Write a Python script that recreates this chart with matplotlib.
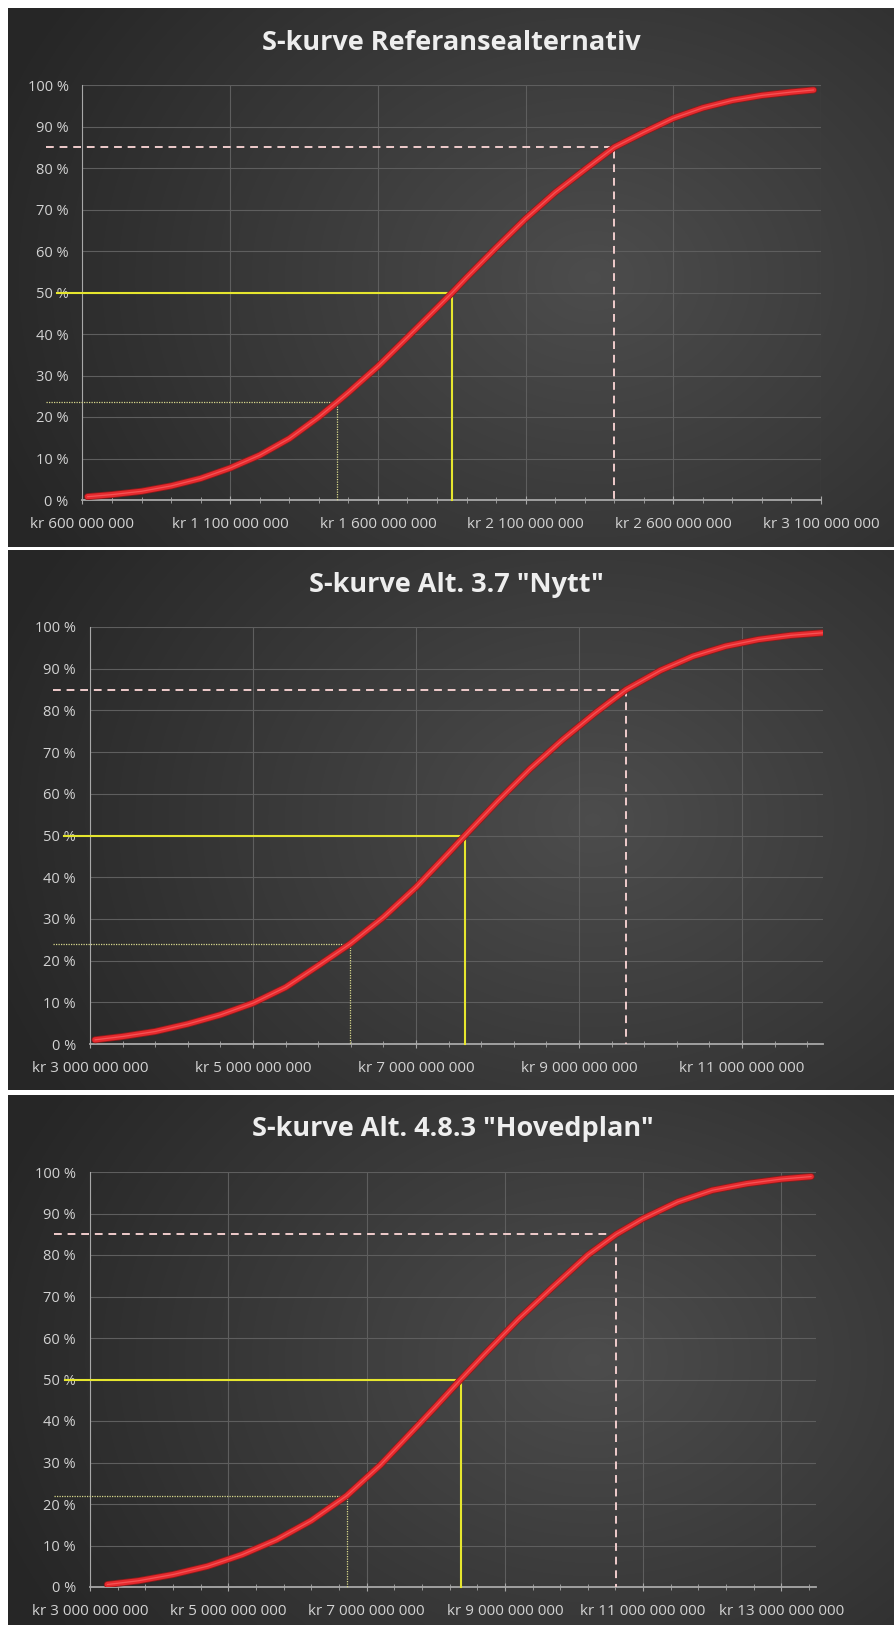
import numpy as np
import matplotlib
matplotlib.use('Agg')
import matplotlib.pyplot as plt
from matplotlib import patheffects as pe
from matplotlib.ticker import FuncFormatter, FixedLocator

plt.rcParams['font.family'] = ['Open Sans', 'DejaVu Sans']

# costs in million kr, cumulative probability in %
titles = ['S-kurve Referansealternativ',
          'S-kurve Alt. 3.7 "Nytt"',
          'S-kurve Alt. 4.8.3 "Hovedplan"']

ref_cost = [617, 700, 800, 900, 1000, 1100, 1200, 1300, 1400, 1460, 1500, 1600, 1700, 1800,
            1852, 1900, 2000, 2100, 2200, 2300, 2400, 2500, 2600, 2700, 2800, 2900, 3000, 3075]
ref_prob = [0.8, 1.3, 2.1, 3.4, 5.2, 7.7, 10.8, 14.8, 20.0, 23.5, 25.9, 32.2, 39.2, 46.3,
            50.0, 53.6, 60.8, 67.8, 74.1, 79.6, 85.0, 88.6, 92.0, 94.5, 96.3, 97.5, 98.3, 98.8]

nytt_cost = [3061, 3400, 3800, 4200, 4600, 5000, 5400, 5800, 6190, 6600, 7000, 7400, 7600,
             8000, 8400, 8800, 9200, 9580, 10000, 10400, 10800, 11200, 11600, 11988]
nytt_prob = [1.0, 1.8, 3.0, 4.8, 7.0, 9.8, 13.6, 18.8, 24.0, 30.4, 37.6, 45.8, 50.0,
             58.2, 66.0, 73.0, 79.4, 85.0, 89.6, 93.0, 95.4, 97.0, 98.0, 98.6]

hoved_cost = [3251, 3700, 4200, 4700, 5200, 5700, 6200, 6713, 7200, 7700, 8000, 8360, 8700,
              9200, 9700, 10200, 10610, 11000, 11500, 12000, 12500, 13000, 13430]
hoved_prob = [0.6, 1.5, 3.0, 5.0, 7.8, 11.4, 16.0, 22.0, 29.4, 38.2, 43.5, 50.0, 56.0,
              64.6, 72.4, 80.0, 85.0, 88.8, 92.8, 95.6, 97.2, 98.3, 98.9]

# (cost, prob) for the low marker, P50 and P85
ref_marks = [(1460, 23.5), (1852, 50), (2400, 85)]
nytt_marks = [(6190, 24), (7600, 50), (9580, 85)]
hoved_marks = [(6713, 22), (8360, 50), (10610, 85)]

# x axis min, max, major step (million kr)
x_axes = [(600, 3100, 500), (3000, 12000, 2000), (3000, 13500, 2000)]

W, H = 895, 1625
fig = plt.figure(figsize=(W / 100, H / 100), dpi=100)
fig.patch.set_facecolor('white')


def px_rect(l, r, t, b):
    return [l / W, 1 - b / H, (r - l) / W, (b - t) / H]


def kr_fmt(v, pos):
    return 'kr ' + f'{int(round(v * 1e6)):,}'.replace(',', ' ')


def draw_bg(l, r, t, b):
    bg = fig.add_axes(px_rect(l, r, t, b))
    bg.axis('off')
    yy, xx = np.mgrid[0:1:200j, 0:1:300j]
    d = np.sqrt(((xx - 0.66) / 0.72) ** 2 + ((yy - 0.5) / 0.95) ** 2)
    d = np.clip(d, 0, 1)[..., None]
    light = np.array([0.30, 0.30, 0.30])
    dark = np.array([0.15, 0.15, 0.15])
    bg.imshow(light * (1 - d) + dark * d, aspect='auto', extent=[0, 1, 0, 1],
              interpolation='bicubic')


panels = [(8, 547), (550, 1090), (1095, 1625)]
plot_boxes = [(82.5, 821, 85, 500), (90, 823.5, 627, 1044), (90, 816, 1172, 1587)]
title_y = [43, 585, 1129]
curves = [(ref_cost, ref_prob), (nytt_cost, nytt_prob), (hoved_cost, hoved_prob)]
marks = [ref_marks, nytt_marks, hoved_marks]

line_styles = [
    dict(color='#d9d98c', lw=0.9, ls=(0, (1, 1)), ext=0.05),
    dict(color='#e6e62e', lw=1.5, ls='-', ext=0.035),
    dict(color='#f0cccc', lw=1.4, ls=(0, (4, 3)), ext=0.05),
]

for i in range(3):
    top, bot = panels[i]
    draw_bg(8, W, top, bot)
    l, r, t, b = plot_boxes[i]
    ax = fig.add_axes(px_rect(l, r, t, b))
    ax.set_facecolor('none')
    xmin, xmax, step = x_axes[i]
    ax.set_xlim(xmin, xmax)
    ax.set_ylim(0, 100)

    ax.xaxis.set_major_locator(FixedLocator(np.arange(xmin, xmax + 1, step)))
    ax.xaxis.set_minor_locator(FixedLocator(np.arange(xmin, xmax + 1, step / 5)))
    ax.xaxis.set_major_formatter(FuncFormatter(kr_fmt))
    ax.yaxis.set_major_locator(FixedLocator(np.arange(0, 101, 10)))
    ax.yaxis.set_major_formatter(FuncFormatter(lambda v, p: f'{int(v)} %'))

    ax.grid(True, which='major', color='#5e5e5e', lw=0.8)
    ax.set_axisbelow(True)
    for s in ['top', 'right']:
        ax.spines[s].set_visible(False)
    ax.spines['left'].set_color('#a8a8a8')
    ax.spines['bottom'].set_color('#a8a8a8')
    ax.spines['bottom'].set_linewidth(1.3)

    ax.tick_params(axis='x', which='both', direction='inout', colors='#a8a8a8',
                   labelcolor='#d2d2d2', labelsize=11, pad=9)
    ax.tick_params(axis='x', which='major', length=6)
    ax.tick_params(axis='x', which='minor', length=4)
    ax.tick_params(axis='y', length=0, labelcolor='#d2d2d2', labelsize=10.5, pad=10)

    for (c, p), st in zip(marks[i], line_styles):
        x0 = xmin - st['ext'] * (xmax - xmin)
        ax.plot([x0, c, c], [p, p, 0], color=st['color'], lw=st['lw'],
                ls=st['ls'], clip_on=False, zorder=3)

    cx, cy = curves[i]
    ax.plot(cx, cy, color='#e62a2e', lw=3.8, solid_capstyle='round',
            solid_joinstyle='round', zorder=4,
            path_effects=[pe.Stroke(linewidth=5.0, foreground='#8e1a1a'), pe.Normal()])
    ax.plot(cx, cy, color='#ff7070', lw=0.9, alpha=0.6, zorder=5,
            solid_capstyle='round', solid_joinstyle='round')

    fig.text((l + r) / 2 / W, 1 - title_y[i] / H, titles[i], ha='center', va='center',
             fontsize=19.5, fontweight='bold', color='#eeeeee')

fig.savefig('out.png', dpi=100)
